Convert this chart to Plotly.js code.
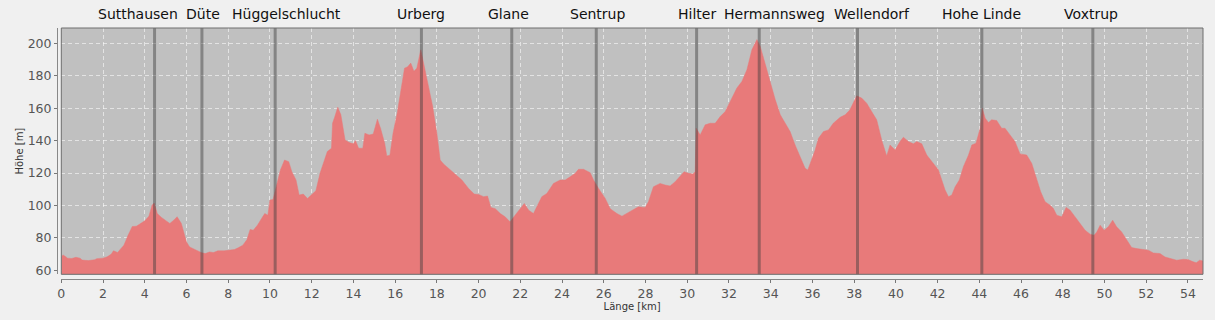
<!DOCTYPE html>
<html>
<head>
<meta charset="utf-8">
<script src="https://cdn.plot.ly/plotly-3.0.1.min.js"></script>
<style>
  html, body { margin: 0; padding: 0; background: #f0f0f0; }
  #chart { width: 1215px; height: 320px; }
</style>
</head>
<body>
<div id="chart"></div>
<script>
// Distance along the route [km]
const distanceKm = [
  0.00, 0.08, 0.2, 0.3, 0.5, 0.7, 0.9, 1.0, 1.3, 1.5, 1.6, 1.7, 2.0, 2.2, 2.4, 2.5, 2.7, 2.8, 3.0, 3.2,
  3.4, 3.6, 3.8, 4.0, 4.2, 4.35, 4.45, 4.6, 4.8, 5.0, 5.2, 5.4, 5.55, 5.75, 5.9, 6.0, 6.15, 6.3, 6.5, 6.7,
  6.9, 7.1, 7.3, 7.5, 7.8, 8.0, 8.3, 8.5, 8.7, 8.9, 9.05, 9.2, 9.4, 9.6, 9.75, 9.9, 10.0, 10.15, 10.3, 10.5,
  10.7, 10.9, 11.05, 11.25, 11.4, 11.6, 11.8, 12.0, 12.2, 12.4, 12.6, 12.75, 12.95, 13.0, 13.1, 13.25, 13.4, 13.6, 13.8, 14.0,
  14.1, 14.25, 14.45, 14.55, 14.75, 14.95, 15.15, 15.3, 15.5, 15.6, 15.75, 15.9, 16.1, 16.3, 16.45, 16.6, 16.75, 16.9, 17.04, 17.23,
  17.44, 17.6, 17.8, 18.0, 18.16, 18.32, 18.56, 18.88, 19.2, 19.52, 19.79, 20.0, 20.24, 20.43, 20.59, 20.8, 21.04, 21.27, 21.51, 21.75,
  22.0, 22.19, 22.4, 22.63, 22.79, 23.03, 23.27, 23.59, 23.91, 24.15, 24.39, 24.63, 24.79, 25.03, 25.35, 25.51, 25.75, 26.07, 26.31, 26.63,
  26.87, 27.1, 27.42, 27.66, 27.98, 28.14, 28.38, 28.7, 28.94, 29.18, 29.42, 29.66, 29.85, 30.06, 30.27, 30.38, 30.43, 30.62, 30.86, 31.1,
  31.34, 31.58, 31.82, 32.06, 32.38, 32.62, 32.86, 33.1, 33.34, 33.5, 33.74, 33.98, 34.22, 34.46, 34.7, 34.93, 35.17, 35.41, 35.65, 35.78,
  35.93, 36.13, 36.29, 36.53, 36.77, 37.0, 37.33, 37.57, 37.8, 37.96, 38.12, 38.36, 38.6, 38.84, 39.08, 39.32, 39.56, 39.72, 39.96, 40.2,
  40.36, 40.6, 40.84, 41.0, 41.24, 41.48, 41.8, 42.04, 42.2, 42.36, 42.52, 42.68, 42.84, 43.04, 43.24, 43.48, 43.64, 43.84, 44.04, 44.14,
  44.28, 44.44, 44.59, 44.83, 45.07, 45.23, 45.47, 45.71, 45.95, 46.27, 46.51, 46.75, 46.94, 47.15, 47.39, 47.55, 47.71, 47.95, 48.16, 48.35,
  48.59, 48.83, 49.07, 49.31, 49.5, 49.63, 49.79, 49.98, 50.18, 50.39, 50.58, 50.82, 51.06, 51.3, 51.54, 51.86, 52.1, 52.34, 52.66, 52.9,
  53.14, 53.46, 53.78, 54.0, 54.25, 54.4, 54.56, 54.72
];

// Elevation [m]
const elevationM = [
  68, 69.5, 68.5, 67.5, 67.3, 68, 67.5, 66.3, 66, 66.2, 66.5, 67.2, 67.5, 68.3, 70, 72, 71, 72.5, 75.5, 81.6,
  87, 87.2, 88.8, 90.5, 93.4, 100.2, 101.5, 95, 92.6, 91, 88.9, 91, 93, 89, 82.7, 77.5, 74.4, 73.4, 72.4, 71,
  70.3, 71.3, 71, 72, 72, 72.2, 72.8, 74, 75.5, 79, 85.2, 84.7, 87.8, 92, 95, 94, 103.3, 103.7, 111.5, 121.9,
  128, 127, 120.8, 115.7, 106.4, 107, 104.3, 106.4, 109, 119.8, 128, 133.2, 135.3, 150.7, 154.4, 160.6, 155.9, 140.4, 138.8, 138,
  140, 135.3, 135.3, 144.5, 143.5, 144, 153.2, 147.6, 138.4, 130.5, 131, 144.5, 157, 173.4, 184.7, 185.5, 187.8, 182.7, 184.7, 196,
  183.7, 173.4, 161, 144.5, 128, 125.6, 122.9, 118.8, 115.7, 110.5, 107, 106.8, 105.4, 105.8, 98.8, 98, 95, 93, 89.9, 94,
  98, 101.2, 97.1, 95, 99.2, 105.4, 107.4, 113.6, 115.7, 115.7, 117.7, 119.8, 122.3, 122.3, 120.2, 115.7, 110.5, 104.3, 98, 95,
  93.4, 95, 97.5, 99.2, 98.8, 102.3, 111.5, 113.6, 112.6, 112, 114.6, 117.7, 120.8, 119.8, 119.4, 120.8, 147.6, 143.5, 149.7, 150.7,
  150.7, 154.8, 157.9, 164.1, 172.4, 176.5, 183.7, 196, 202.3, 198.1, 186.8, 175.5, 165.2, 155.9, 150.7, 145.6, 137.3, 129.5, 122.9, 121.9,
  127, 134.2, 141.4, 145.6, 146.6, 150.7, 154.4, 155.9, 159, 163.1, 167.6, 166.2, 163.1, 157.9, 152.8, 140.4, 130.5, 137.3, 134.2, 139.4,
  142.1, 139.4, 138, 139.4, 138, 131.1, 126, 121.9, 115.7, 109.5, 105.4, 106.4, 111.5, 115.7, 124, 131.1, 137.3, 138.4, 147.6, 160,
  153.8, 151.1, 152.8, 152.4, 147.6, 147.6, 143.5, 139.4, 131.8, 131.1, 126, 116.7, 108.5, 102.3, 100.2, 98.1, 94, 93, 98.8, 97.1,
  93, 88.9, 84.7, 82.3, 81.6, 83.7, 87.8, 84.7, 86.8, 90.9, 86.8, 83.7, 78.6, 74, 73.4, 72.8, 72.4, 70.7, 70.3, 68.2,
  67.2, 66.2, 66.8, 66.6, 65.2, 64.7, 66.2, 65.8
];

// Waypoints along the route
const waypointNames = ["Sutthausen", "Düte", "Hüggelschlucht", "Urberg", "Glane", "Sentrup",
  "Hilter", "Hermannsweg", "Wellendorf", "Hohe Linde", "Voxtrup"];
const waypointKm = [4.47, 6.74, 10.25, 17.26, 21.59, 25.64, 30.45, 33.45, 38.16, 44.12, 49.44];

// label nudges (pixels) to avoid overlap, as in the original
const labelShiftPx = [-17, 1, 11, 0, -3, 1, 0, 15, 15, 0, -2];

const FONT = "DejaVu Sans, Verdana, sans-serif";

const trace = {
  x: distanceKm,
  y: elevationM,
  type: "scatter",
  mode: "lines",
  fill: "tozeroy",
  fillcolor: "#e87a7a",
  line: { color: "#e87a7a", width: 0.5 },
  hoverinfo: "x+y",
  showlegend: false
};

const shapes = waypointKm.map(k => ({
  type: "line", xref: "x", yref: "y domain",
  x0: k, x1: k, y0: 0, y1: 1,
  line: { color: "rgba(60,60,60,0.45)", width: 3 },
  layer: "above"
}));
shapes.push({
  type: "rect", xref: "x domain", yref: "y domain",
  x0: 0, x1: 1, y0: 0, y1: 1,
  line: { color: "#6e6e6e", width: 1 },
  fillcolor: "rgba(0,0,0,0)", layer: "above"
});

const annotations = waypointNames.map((n, i) => ({
  text: n, x: waypointKm[i], xref: "x", y: 1, yref: "paper",
  xanchor: "center", yanchor: "middle", yshift: 14, xshift: labelShiftPx[i],
  showarrow: false,
  font: { family: FONT, size: 14, color: "#111111" }
}));

const layout = {
  width: 1215, height: 320,
  margin: { l: 57, r: 12, t: 28, b: 41, pad: 0 },
  paper_bgcolor: "#f0f0f0",
  plot_bgcolor: "#c0c0c0",
  font: { family: FONT, color: "#555555" },
  xaxis: {
    domain: [0.00375, 1],
    anchor: "free", position: 0,
    range: [0, 54.72],
    tickmode: "linear", tick0: 0, dtick: 2,
    ticks: "outside", ticklen: 3, tickcolor: "#777777",
    showline: true, linecolor: "#888888", linewidth: 1,
    showgrid: true, gridcolor: "rgba(255,255,255,0.55)", gridwidth: 1, griddash: "4px,3px",
    zeroline: false,
    tickfont: { family: FONT, size: 12.5, color: "#555555" },
    title: { text: "Länge [km]", font: { family: FONT, size: 10, color: "#333333" }, standoff: 2 }
  },
  yaxis: {
    domain: [0.0187, 1],
    anchor: "free", position: 0,
    range: [57.53, 209.45],
    tickmode: "linear", tick0: 60, dtick: 20,
    ticks: "outside", ticklen: 3, tickcolor: "#777777",
    showline: true, linecolor: "#888888", linewidth: 1,
    showgrid: true, gridcolor: "rgba(255,255,255,0.55)", gridwidth: 1, griddash: "4px,3px",
    zeroline: false,
    tickfont: { family: FONT, size: 12.5, color: "#555555" },
    title: { text: "Höhe [m]", font: { family: FONT, size: 10, color: "#333333" }, standoff: 1 }
  },
  shapes: shapes,
  annotations: annotations
};

Plotly.newPlot("chart", [trace], layout, { displayModeBar: false, staticPlot: true });
</script>
</body>
</html>
